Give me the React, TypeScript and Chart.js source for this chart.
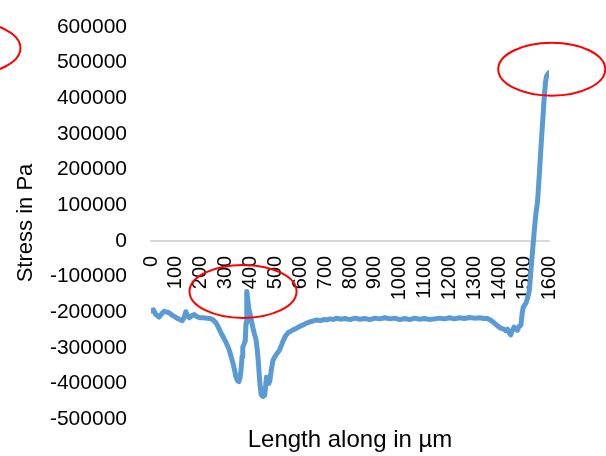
import React, { useEffect, useRef } from "react";
import { Chart, registerables } from "chart.js";

Chart.register(...registerables);

// Length along the path (µm)
const lengths = [
  0, 10, 19, 32, 45, 53, 65, 75, 88, 100, 113, 126, 133, 140, 147, 154, 164, 174, 185, 195,
  210, 225, 238, 250, 261, 271, 281, 292, 302, 310, 316, 322, 329, 336, 342, 348, 353, 358,
  362, 366, 369, 374, 379, 382, 385, 389, 393, 398, 404, 410, 416, 422, 427, 431, 435, 439,
  443, 450, 457, 461, 464, 469, 474, 478, 483, 490, 498, 508, 517, 525, 531, 540, 551, 561,
  571, 584, 598, 611, 625, 640, 652, 665, 680, 694, 706, 720, 733, 746,
  760, 780, 800, 820, 840, 860, 880, 900, 920, 940, 960, 980, 1000, 1020, 1040, 1060, 1080,
  1100, 1120, 1140, 1160, 1180, 1200, 1220, 1240, 1260, 1280, 1300, 1320, 1340,
  1352, 1366, 1379, 1392, 1406, 1416, 1426, 1433, 1440, 1446, 1452, 1460, 1466, 1473, 1480,
  1487, 1492, 1496, 1502, 1508, 1514, 1521, 1530, 1541, 1548, 1554, 1561, 1568, 1575, 1581,
  1586, 1590, 1595, 1600,
];

// Stress (Pa)
const stress = [
  -197000, -194000, -207000, -214000, -203000, -198000, -200000, -203000, -210000, -215000,
  -220000, -224000, -215000, -199000, -210000, -216000, -210000, -207000, -213000, -216000,
  -216000, -217000, -218000, -222000, -230000, -243000, -258000, -272000, -286000, -298000,
  -310000, -325000, -342000, -363000, -384000, -392000, -395000, -385000, -362000, -325000,
  -298000, -290000, -280000, -230000, -142000, -165000, -190000, -205000, -225000, -245000,
  -262000, -276000, -305000, -335000, -375000, -410000, -432000, -437000, -434000, -405000,
  -383000, -388000, -400000, -392000, -365000, -336000, -325000, -315000, -306000, -292000,
  -281000, -268000, -258000, -254000, -250000, -246000, -240000, -236000, -231000, -227000,
  -225000, -222000, -224000, -221000, -222000, -219000, -221000, -217000,
  -220000, -218000, -221000, -217000, -220000, -218000, -221000, -217000, -219000, -216000,
  -219000, -217000, -221000, -218000, -221000, -217000, -220000, -218000, -221000, -219000,
  -217000, -219000, -216000, -219000, -216000, -218000, -215000, -217000, -216000, -218000,
  -218000, -223000, -230000, -238000, -245000, -247000, -252000, -248000, -258000, -264000,
  -252000, -242000, -248000, -251000, -240000, -237000, -205000, -188000, -180000, -174000,
  -160000, -140000, -60000, 30000, 80000, 110000, 185000, 265000, 340000, 405000,
  445000, 462000, 468000, 472000,
];

// Axis ranges / ticks
const xMin = 0;
const xMax = 1600;
const xStep = 100;
const yMin = -500000;
const yMax = 600000;
const yStep = 100000;

// Highlight ellipse centres in data coordinates (length, stress)
const highlightX = [-740, 370, 1611];
const highlightY = [541000, -142000, 481500];

const yTitle = "Stress in Pa";
const xTitle = "Length along in µm";

const FONT = '"Liberation Sans", Arial, sans-serif';

export default function App() {
  const ref = useRef<HTMLCanvasElement | null>(null);

  useEffect(() => {
    if (!ref.current) return;

    const overlay = {
      id: "overlay",
      afterDraw(chart: any) {
        const { ctx, chartArea, scales } = chart;
        const xs = scales.x;
        const ys = scales.y;
        ctx.save();
        ctx.strokeStyle = "#FF0000";
        ctx.lineWidth = 2;
        for (let i = 0; i < highlightX.length; i++) {
          ctx.beginPath();
          ctx.ellipse(
            xs.getPixelForValue(highlightX[i]),
            ys.getPixelForValue(highlightY[i]),
            53.5,
            26.5,
            0,
            0,
            Math.PI * 2
          );
          ctx.stroke();
        }
        ctx.fillStyle = "#000000";
        ctx.font = `24px ${FONT}`;
        ctx.textAlign = "center";
        ctx.textBaseline = "middle";
        ctx.fillText(xTitle, (chartArea.left + chartArea.right) / 2, chartArea.bottom + 21);
        ctx.restore();
      },
    };

    const chart = new Chart(ref.current, {
      type: "line",
      data: {
        datasets: [
          {
            data: lengths.map((l, i) => ({ x: l, y: stress[i] })),
            borderColor: "#5B9BD5",
            borderWidth: 5,
            pointRadius: 0,
            tension: 0,
            fill: false,
            borderCapStyle: "round",
            borderJoinStyle: "round",
          },
        ],
      },
      options: {
        animation: false,
        responsive: true,
        maintainAspectRatio: false,
        layout: { padding: { top: 27, right: 57, bottom: 37, left: 0 } },
        plugins: { legend: { display: false }, tooltip: { enabled: false } },
        scales: {
          x: {
            type: "linear",
            position: { y: 0 } as any,
            min: xMin,
            max: xMax,
            grid: { display: false, drawTicks: false },
            border: { display: true, color: "#D9D9D9", width: 2 },
            ticks: {
              stepSize: xStep,
              autoSkip: false,
              minRotation: 90,
              maxRotation: 90,
              padding: 15,
              color: "#000000",
              font: { family: FONT, size: 20 },
              callback: (v: any) => String(v),
            },
          },
          y: {
            type: "linear",
            min: yMin,
            max: yMax,
            grid: { display: false, drawTicks: false },
            border: { display: false },
            afterFit: (s: any) => {
              s.width = 151;
              s.paddingTop = 10;
              s.paddingBottom = 10;
            },
            ticks: {
              stepSize: yStep,
              padding: 24,
              color: "#000000",
              font: { family: FONT, size: 21 },
              callback: (v: any) => String(v),
            },
            title: {
              display: true,
              text: yTitle,
              color: "#000000",
              font: { family: FONT, size: 22 },
              padding: { top: 13, bottom: 0 },
            },
          },
        },
      },
      plugins: [overlay],
    });

    return () => chart.destroy();
  }, []);

  return (
    <div style={{ position: "fixed", left: 0, top: 0, width: 606, height: 456, background: "#fff" }}>
      <canvas ref={ref} />
    </div>
  );
}
